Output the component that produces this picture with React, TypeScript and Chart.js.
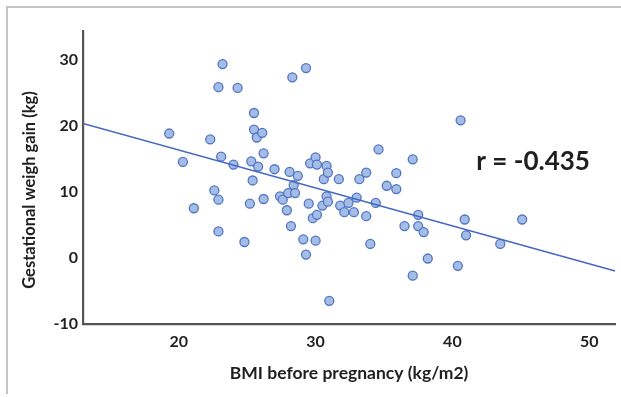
import { useEffect, useRef } from "react";
import { Chart, registerables } from "chart.js";

Chart.register(...registerables);

// BMI before pregnancy (kg/m2)
const bmi = [
  19.3, 20.3, 21.1, 22.3, 22.6, 22.9, 22.9, 23.2, 23.1, 22.9,
  24.3, 24.0, 24.8, 25.2, 25.3, 25.4, 25.5, 25.5, 25.7, 26.1,
  25.8, 26.2, 26.2, 27.0, 27.4, 27.6, 27.9, 28.0, 28.1, 28.2,
  28.3, 28.4, 28.5, 28.7, 29.1, 29.3, 29.5, 29.3, 29.6, 29.8,
  30.0, 30.0, 30.1, 30.1, 30.6, 30.5, 30.8, 30.9, 30.8, 30.9,
  31.0, 31.7, 31.8, 32.1, 32.4, 32.8, 33.0, 33.2, 33.7, 33.7,
  34.0, 34.4, 34.6, 35.2, 35.9, 35.9, 36.5, 37.1, 37.1, 37.5,
  37.5, 37.9, 38.2, 40.4, 40.6, 40.9, 41.0, 43.5, 45.1,
];
// Gestational weight gain (kg)
const gain = [
  18.8, 14.5, 7.5, 17.9, 10.2, 8.8, 25.8, 29.3, 15.3, 4.0,
  25.7, 14.1, 2.4, 8.2, 14.6, 11.7, 21.9, 19.4, 18.2, 18.9,
  13.8, 15.8, 8.9, 13.4, 9.3, 8.8, 7.2, 9.8, 13.0, 4.8,
  27.3, 11.0, 9.8, 12.4, 2.8, 0.5, 8.2, 28.7, 14.3, 6.0,
  2.6, 15.2, 14.1, 6.5, 11.9, 7.9, 9.3, 8.5, 13.9, 12.9,
  -6.5, 11.9, 7.9, 6.9, 8.3, 6.9, 9.1, 11.9, 6.3, 12.9,
  2.1, 8.3, 16.4, 10.9, 12.8, 10.4, 4.8, 14.9, -2.7, 6.5,
  4.8, 3.9, -0.1, -1.2, 20.8, 5.8, 3.4, 2.1, 5.8,
];

const xTicks = [20, 30, 40, 50];
const yTicks = [-10, 0, 10, 20, 30];
const xRange = [13, 51.9];
const yRange = [-10, 34.3];

const fitIntercept = 27.75;
const fitSlope = -0.573;

const xTitle = "BMI before pregnancy (kg/m2)";
const yTitle = "Gestational weigh gain (kg)";
const rLabel = "r = -0.435";
const rLabelAt = [45.9, 14.6];

const FONT = "Lato, 'Open Sans', sans-serif";

export default function App() {
  const ref = useRef<HTMLCanvasElement | null>(null);

  useEffect(() => {
    document.body.style.margin = "0";
    const canvas = ref.current;
    if (!canvas) return;

    const points = bmi.map((x, i) => ({ x, y: gain[i] }));
    const fit = xRange.map((x) => ({ x, y: fitIntercept + fitSlope * x }));

    const labels = {
      id: "labels",
      afterDraw(chart: any) {
        const { ctx, chartArea, scales } = chart;
        ctx.save();
        ctx.fillStyle = "#1f1f1f";
        ctx.textAlign = "center";
        ctx.textBaseline = "middle";
        ctx.font = `bold 17.5px ${FONT}`;
        ctx.fillText(xTitle, (chartArea.left + chartArea.right) / 2, 373);
        ctx.save();
        ctx.translate(30, 190);
        ctx.rotate(-Math.PI / 2);
        ctx.font = `bold 16.5px ${FONT}`;
        ctx.fillText(yTitle, 0, 0);
        ctx.restore();
        ctx.font = `bold 26px ${FONT}`;
        ctx.fillText(
          rLabel,
          scales.x.getPixelForValue(rLabelAt[0]),
          scales.y.getPixelForValue(rLabelAt[1])
        );
        ctx.restore();
      },
    };

    const chart = new Chart(canvas, {
      type: "scatter",
      data: {
        datasets: [
          {
            type: "line",
            data: fit,
            borderColor: "#4468c2",
            borderWidth: 1.5,
            pointRadius: 0,
            fill: false,
            order: 0,
          } as any,
          {
            data: points,
            backgroundColor: "#a4bde6",
            borderColor: "#5275c4",
            borderWidth: 1.3,
            pointRadius: 4.5,
            order: 1,
          },
        ],
      },
      options: {
        responsive: false,
        animation: false,
        layout: { padding: { top: 31, right: 3, left: 0, bottom: 0 } },
        plugins: {
          legend: { display: false },
          tooltip: { enabled: false },
        },
        scales: {
          x: {
            type: "linear",
            min: xRange[0],
            max: xRange[1],
            afterBuildTicks: (s: any) => {
              s.ticks = xTicks.map((v) => ({ value: v }));
            },
            afterFit: (s: any) => {
              s.height = 73;
            },
            grid: { display: false, drawTicks: false },
            border: { display: true, color: "#555", width: 2.2 },
            ticks: {
              padding: 8,
              color: "#1f1f1f",
              font: { family: FONT, size: 16, weight: "bold" },
              maxRotation: 0,
            },
          },
          y: {
            type: "linear",
            min: yRange[0],
            max: yRange[1],
            afterBuildTicks: (s: any) => {
              s.ticks = yTicks.map((v) => ({ value: v }));
            },
            afterFit: (s: any) => {
              s.width = 83;
            },
            grid: { display: false, drawTicks: false },
            border: { display: true, color: "#555", width: 2.2 },
            ticks: {
              padding: 5,
              color: "#1f1f1f",
              font: { family: FONT, size: 16, weight: "bold" },
            },
          },
        },
      },
      plugins: [labels],
    });

    return () => chart.destroy();
  }, []);

  return (
    <div
      style={{
        position: "relative",
        width: 621,
        height: 397,
        background: "#fff",
        overflow: "hidden",
      }}
    >
      <div
        style={{
          position: "absolute",
          left: 6,
          top: 6,
          width: 700,
          height: 386,
          borderLeft: "2px solid #c4c4c4",
          borderTop: "2px solid #c4c4c4",
        }}
      />
      <canvas
        ref={ref}
        width={621}
        height={397}
        style={{ position: "absolute", left: 0, top: 0, display: "block" }}
      />
    </div>
  );
}
